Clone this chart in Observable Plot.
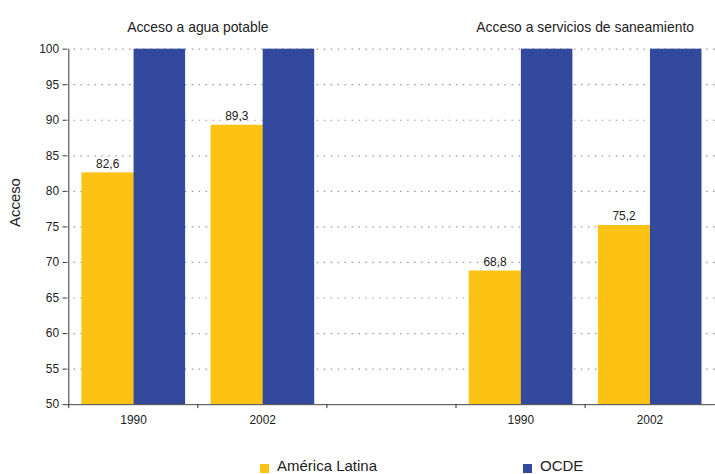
<!DOCTYPE html>
<html>
<head>
<meta charset="utf-8">
<script src="https://cdn.jsdelivr.net/npm/d3@7"></script>
<script src="https://cdn.jsdelivr.net/npm/@observablehq/plot@0.6"></script>
<style>
  html, body { margin: 0; padding: 0; background: #fff; overflow: hidden; }
  body { font-family: "Liberation Sans", Arial, Helvetica, sans-serif; color: #222; }
  #wrap { position: relative; width: 715px; height: 474px; overflow: hidden; }
  #legend { position: absolute; left: 0; top: 440px; width: 715px; height: 34px; }
  .sw { position: absolute; width: 9px; height: 9px; top: 24px; }
  .lt { position: absolute; top: 16px; font-size: 15px; line-height: 20px; color: #222; }
</style>
</head>
<body>
<div id="wrap"><div id="chart"></div>
<div id="legend">
  <span class="sw" style="left:260px;background:#FCC314"></span><span class="lt" style="left:277px">América Latina</span>
  <span class="sw" style="left:523px;background:#32499D"></span><span class="lt" style="left:540px">OCDE</span>
</div></div>
<script>
// ---- data ----
const panels = ["Acceso a agua potable", "Acceso a servicios de saneamiento"];
const years = ["1990", "2002"];
const americaLatina = [[82.6, 89.3], [68.8, 75.2]];
const ocde = [[100, 100], [100, 100]];
const yTicks = [50, 55, 60, 65, 70, 75, 80, 85, 90, 95, 100];
const slots = ["agua-1990", "agua-2002", "gap", "san-1990", "san-2002"];
const panelSlots = [["agua-1990", "agua-2002"], ["san-1990", "san-2002"]];

const rows = [];
panels.forEach((p, i) => years.forEach((yr, j) => {
  rows.push({slot: panelSlots[i][j], year: yr, al: americaLatina[i][j], ocde: ocde[i][j]});
}));
const yearOf = Object.fromEntries(rows.map(d => [d.slot, d.year]));
const titles = panels.map((p, i) => ({title: p, slot: panelSlots[i][1]}));

// ---- layout ----
const W = 720, H = 440, mL = 67, mR = 0, mT = 49, mB = 33;
const bw = (W - mL - mR) / slots.length;
const pad = 13, barW = 52.5;
const pxPerUnit = (H - mT - mB) / 50;
const yellow = "#FCC314", blue = "#32499D";

const chart = Plot.plot({
  width: W, height: H,
  marginLeft: mL, marginRight: mR, marginTop: mT, marginBottom: mB,
  style: {fontFamily: '"Liberation Sans", Arial, Helvetica, sans-serif', fontSize: "12px", color: "#222", background: "#fff"},
  x: {domain: slots, padding: 0, axis: null},
  y: {domain: [50, 100], axis: null},
  marks: [
    Plot.ruleY(yTicks.filter(v => v > 50), {stroke: "#999", strokeDasharray: "1.5,5.5", strokeWidth: 1.2}),
    Plot.barY(rows, {x: "slot", y1: 50, y2: "al", fill: yellow, insetLeft: pad, insetRight: bw - pad - barW - 1.5}),
    Plot.barY(rows, {x: "slot", y1: 50, y2: "ocde", fill: blue, insetLeft: pad + barW, insetRight: bw - pad - 2 * barW}),
    Plot.text(rows, {x: "slot", y: "al", text: d => d.al.toFixed(1).replace(".", ","), dx: pad + barW / 2 - bw / 2, dy: -9, fontSize: 12, fill: "#222"}),
    Plot.axisY({ticks: yTicks, tickSize: 4, tickPadding: 4, fontSize: 12, stroke: "#333", label: null}),
    Plot.axisX({tickSize: 0, tickPadding: 11, fontSize: 12, tickFormat: s => yearOf[s] || "", label: null}),
    Plot.ruleX([slots[0]], {dx: -bw / 2, y1: 50, y2: 100, stroke: "#777", strokeWidth: 1.5}),
    Plot.ruleY([50], {stroke: "#444", strokeWidth: 1}),
    Plot.ruleX(slots, {x: d => d, dx: -bw / 2, y1: 50, y2: 50 - 4 / pxPerUnit, stroke: "#333"}),
    Plot.text(titles, {x: "slot", text: "title", frameAnchor: "top", dx: -bw / 2, dy: -27, fontSize: 14, fill: "#222"}),
    Plot.text(["Acceso"], {text: d => d, frameAnchor: "left", rotate: -90, dx: -52, fontSize: 15, fill: "#222"})
  ]
});
document.getElementById("chart").appendChild(chart);
</script>
</body>
</html>
